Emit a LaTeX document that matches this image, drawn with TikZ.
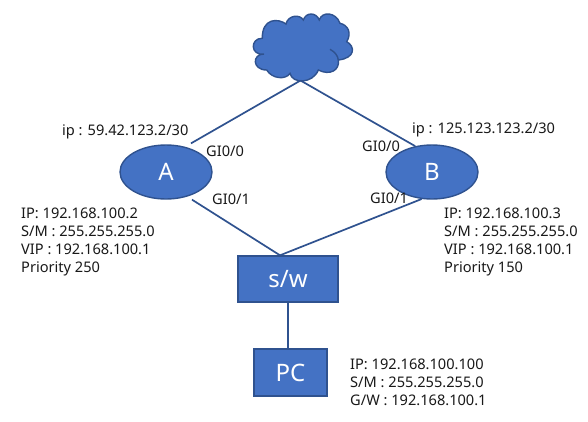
\documentclass[tikz,border=0pt]{standalone}
\usepackage{fontspec}
\setmainfont{Noto Sans}
\usetikzlibrary{shapes.geometric}
\definecolor{fillblue}{HTML}{4472C4}
\definecolor{edgeblue}{HTML}{2F528F}
\begin{document}
\begin{tikzpicture}[x=1pt,y=-1pt,
  shapebox/.style={draw=edgeblue,line width=1.4pt,fill=fillblue,text=white,font=\fontsize{24}{26}\selectfont,inner sep=0pt},
  router/.style={shapebox,ellipse,minimum width=92pt,minimum height=54pt},
  device/.style={shapebox,rectangle},
  link/.style={draw=edgeblue,line width=1.7pt},
  info/.style={anchor=west,align=left,inner sep=0pt,text=black!90,font=\fontsize{14.6}{18.2}\selectfont}]
\useasboundingbox (0,0) rectangle (588,421);
\fill[white] (0,0) rectangle (588,421);
% cloud
\draw[draw=edgeblue,line width=1.4pt,fill=fillblue]
  (290,73.3) .. controls (292,84) and (313,84) .. (318.3,70)
  .. controls (330,76) and (340,70) .. (338.3,60)
  .. controls (356,58) and (355,46) .. (346.7,41.7)
  .. controls (352,33) and (348,25) .. (340,23.3)
  .. controls (336,12) and (322,11) .. (319.3,20)
  .. controls (316,12) and (306,12) .. (303.3,20)
  .. controls (300,14) and (288,15) .. (286,24)
  .. controls (278,18) and (262,18) .. (262.3,38.3)
  .. controls (250,38) and (250,56) .. (264,54)
  .. controls (252,54) and (252,70) .. (266.7,70)
  .. controls (272,79) and (286,80) .. (290,73.3) -- cycle;
\draw[draw=edgeblue,line width=1.4pt] (330,49.3) .. controls (335,52) and (338,56) .. (338.3,60);
\coordinate (cloudfoot) at (300.5,80.5);
% nodes
\node[router] (A) at (166,172) {A};
\node[router] (B) at (432,172) {B};
\node[device,minimum width=100pt,minimum height=46pt] (sw) at (288,279) {s/w};
\node[device,minimum width=73pt,minimum height=47pt] (pc) at (290.5,372.5) {PC};
\coordinate (swtop) at ([xshift=-8pt]sw.north);
% connectors
\draw[link] (cloudfoot) -- ([shift={(-2,-6)}]A.40);
\draw[link] (cloudfoot) -- (B.123);
\draw[link] ([shift={(-1,5)}]A.-40) -- (swtop);
\draw[link] (B.249) -- (swtop);
\draw[link] (sw.south) -- (sw.south |- pc.north);
% labels
\node[info] (ipa) at (62,132) {ip : 59.42.123.2/30};
\node[info] (ipb) at (412,130) {ip : 125.123.123.2/30};
\node[info] (a0) at (206,151) {GI0/0};
\node[info] (a1) at (212,199) {GI0/1};
\node[info] (b0) at (362,146) {GI0/0};
\node[info] (b1) at (370,198) {GI0/1};
\node[info] (infoa) at (21,242) {IP: 192.168.100.2\\S/M : 255.255.255.0\\VIP : 192.168.100.1\\Priority 250};
\node[info] (infob) at (444,242) {IP: 192.168.100.3\\S/M : 255.255.255.0\\VIP : 192.168.100.1\\Priority 150};
\node[info] (infopc) at (350,382) {IP: 192.168.100.100\\S/M : 255.255.255.0\\G/W : 192.168.100.1};
\end{tikzpicture}
\end{document}
